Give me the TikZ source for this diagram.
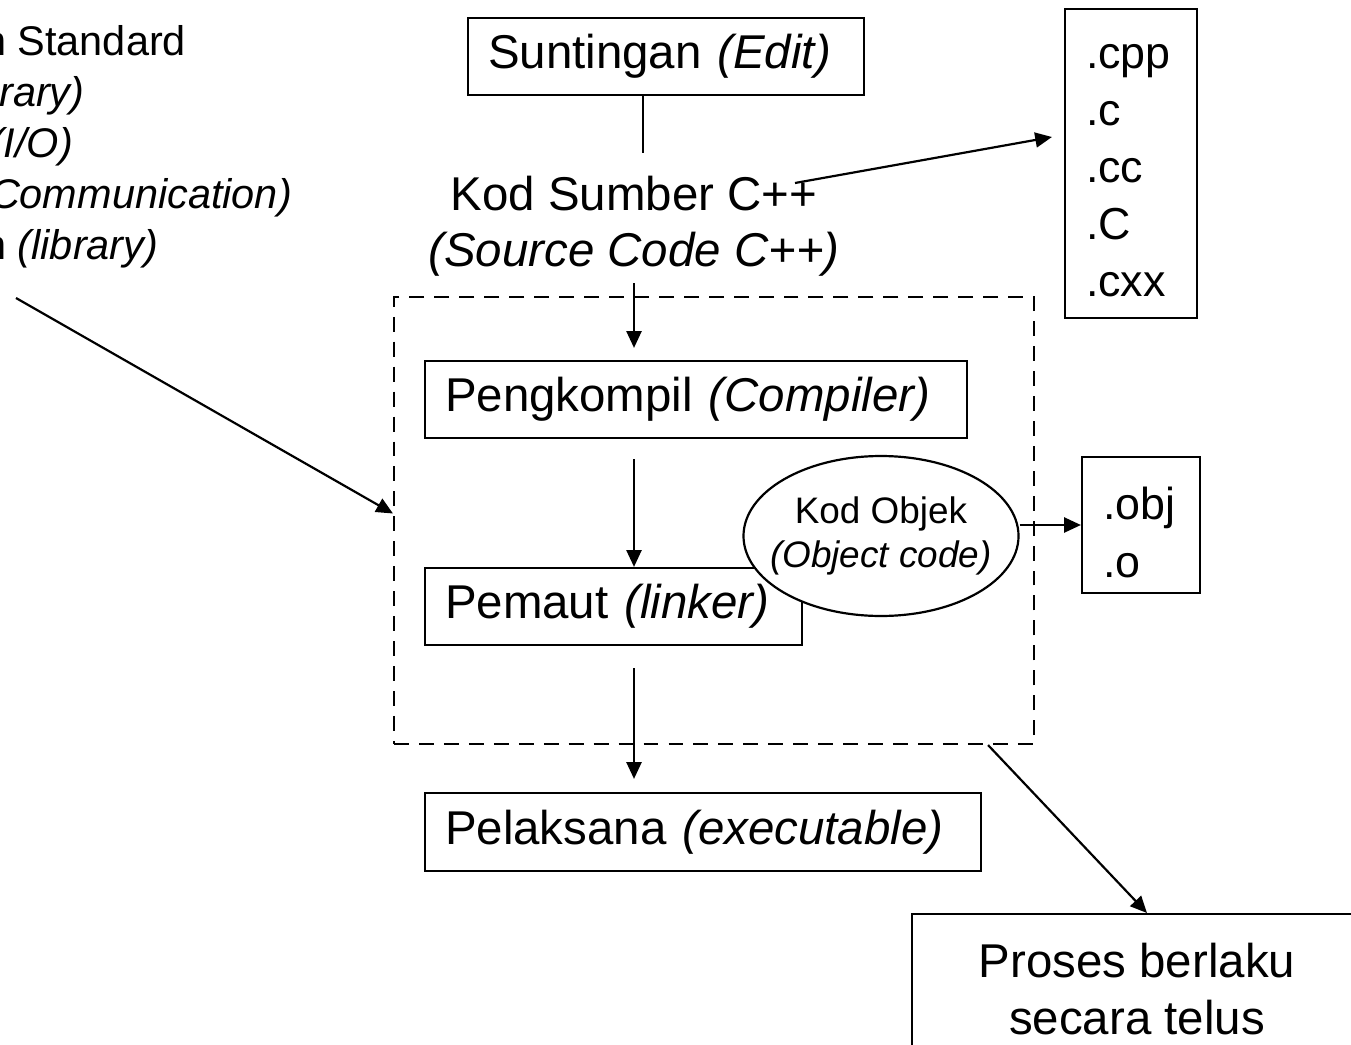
\documentclass[tikz,border=0pt]{standalone}
\usepackage{fontspec}
\setmainfont{Liberation Sans}
\usetikzlibrary{shapes.geometric, arrows.meta, positioning, calc}

\newcommand{\besar}{\fontsize{27}{32}\selectfont}
\newcommand{\sambungan}{\fontsize{25.5}{32.5}\selectfont}
\newcommand{\kecil}{\fontsize{21}{25}\selectfont}
\newcommand{\kiri}{\fontsize{23.6}{29}\selectfont}

\begin{document}
\begin{tikzpicture}[
    x=0.02cm, y=-0.02cm,
    box/.style={draw=black, line width=1.25pt, inner xsep=0.4cm, inner ysep=0pt,
                minimum height=1.55cm, align=left, font=\besar},
    extbox/.style={draw=black, line width=1.25pt, inner xsep=0.42cm, inner ysep=0pt,
                   align=left, font=\sambungan},
    objbox/.style={ellipse, draw=black, line width=1.25pt, fill=white,
                   inner xsep=-0.27cm, inner ysep=0pt,
                   minimum width=5.46cm, minimum height=3.2cm, align=center, font=\kecil},
    dashbox/.style={draw=black, line width=1.25pt, dash pattern=on 8.5pt off 5.7pt,
                    minimum width=12.8cm, minimum height=8.94cm, inner sep=0pt},
    arr/.style={-{Triangle[length=9.5pt,width=8.5pt]}, line width=1.25pt, black}
]
\useasboundingbox (0,0) rectangle (1351,1044);

% Kotak putus-putus : proses telus
\node[dashbox] (telus) at (714,520.5) {};

% Pustaka di kiri (terpotong)
\node[anchor=north west, inner sep=0pt, align=left, font=\kiri] (pustaka) at (-250,25)
    {Perpustakaan Standard\\\textit{(Standard Library)}\\Input/Output \textit{(I/O)}\\
     Komunikasi \textit{(Communication)}\\Perpustakaan \textit{(library)}};
\coordinate (lib) at (16,298);

% Lajur tengah
\node[box, text width=7.12cm] (edit) at (666,56.5) {Suntingan \textit{(Edit)}};
\node[align=center, inner sep=0pt, font=\besar] (sumber) at (634,226.5)
    {Kod Sumber C++\\\textit{(Source Code C++)}};
\coordinate (cpp) at (795,183);
\node[box, text width=10.04cm, minimum height=1.54cm] (kompil) at (696,399.5)
    {Pengkompil \textit{(Compiler)}};
\node[box, text width=6.74cm, minimum height=1.54cm] (pemaut) at (613.5,606.5)
    {Pemaut \textit{(linker)}};
\node[objbox] (objek) at (881,536) {Kod Objek\\\textit{(Object code)}};
\node[box, text width=10.32cm, minimum height=1.56cm] (laksana) at (703,832)
    {Pelaksana \textit{(executable)}};

% Lajur kanan
\node[extbox, text width=1.8cm, minimum height=6.18cm] (ext) at (1131,163.5)
    {\rule{0pt}{22pt}.cpp\\.c\\.cc\\.C\\.cxx};
\node[extbox, text width=1.52cm, minimum height=2.72cm] (obj) at (1141,525)
    {\rule{0pt}{27pt}.obj\\.o};
\node[draw=black, line width=1.25pt, align=center, font=\besar, minimum width=9cm,
      minimum height=3cm, anchor=north] (proses) at (1137,913)
    {Proses berlaku\\secara telus};

% Penyambung
\draw[line width=1.25pt, shorten >=0.46cm] ([xshift=-0.46cm]edit.south)
    -- ([xshift=-0.46cm]edit.south |- sumber.north);
\draw[arr] (cpp) -- ([xshift=-0.24cm,yshift=0.53cm]ext.west);
\draw[arr, shorten <=0.12cm, shorten >=0.24cm] (sumber.south) -- (sumber.south |- kompil.north);
\draw[arr, shorten <=0.4cm] (sumber.south |- kompil.south) -- (sumber.south |- pemaut.north);
\draw[arr, shorten <=0.44cm, shorten >=0.26cm] (sumber.south |- pemaut.south) -- (sumber.south |- laksana.north);
\draw[arr] (objek.east |- obj.west) -- (obj.west);
\draw[arr] (lib) -- ([yshift=0.14cm]telus.west);
\draw[arr] ([xshift=-0.94cm]telus.south east) -- ([xshift=0.2cm]proses.north);

\end{tikzpicture}
\end{document}
